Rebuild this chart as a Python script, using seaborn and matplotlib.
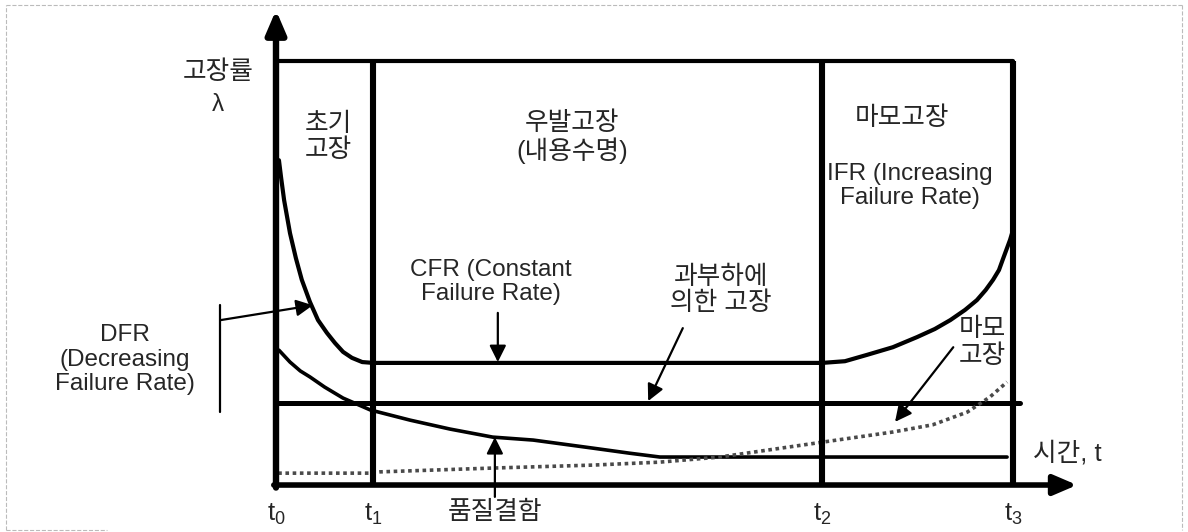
import numpy as np
import matplotlib.pyplot as plt
import seaborn as sns
from matplotlib.lines import Line2D

sns.set_theme(style='white')
plt.rcParams['font.family'] = ['Liberation Sans', 'Noto Sans CJK KR']
plt.rcParams['mathtext.fontset'] = 'custom'
plt.rcParams['mathtext.rm'] = 'Liberation Sans'
plt.rcParams['mathtext.it'] = 'Liberation Sans'

# 시간 구간 (t0 ~ t3), 가로축 0~100
t_marks = [0, 13.2, 74.1, 100]
t_labels = ['$\\mathrm{t_0}$', '$\\mathrm{t_1}$', '$\\mathrm{t_2}$', '$\\mathrm{t_3}$']

# 전체 고장률 (욕조곡선)
bath_t = [0.4, 0.7, 1.1, 1.9, 2.7, 3.5, 4.6, 5.7, 6.9, 8.0, 9.1, 10.3, 11.7, 13.2, 40.0,
          74.1, 77.2, 80.2, 83.7, 87.0, 89.4, 91.5, 93.5, 95.1, 96.3, 97.3, 98.1, 98.6,
          99.6, 100.0]
bath_rate = [76.6, 72.4, 67.2, 59.4, 53.5, 48.4, 43.2, 38.9, 35.9, 33.5, 31.4, 30.0, 29.0,
             28.8, 28.8, 28.8, 29.2, 30.7, 32.5, 34.9, 36.8, 38.9, 41.3, 43.6, 46.0, 48.4,
             50.7, 53.1, 57.8, 60.1]

# 품질결함에 의한 고장
quality_t = [0.4, 1.9, 3.3, 4.6, 6.6, 9.1, 12.8, 18.2, 23.6, 29.4, 34.9, 43.0, 48.0, 52.1,
             75.0, 99.2]
quality_rate = [31.8, 29.0, 26.9, 25.5, 23.1, 20.5, 17.7, 15.3, 13.2, 11.3, 10.6, 8.7, 7.5,
                6.6, 6.6, 6.6]

# 과부하에 의한 고장 (일정)
overload_t = [0, 101.0]
overload_rate = [19.3, 19.3]

# 마모고장
wear_t = [0.3, 12.8, 14.1, 29.4, 43.0, 52.1, 60.2, 74.1, 83.7, 89.1, 93.8, 96.9, 99.2]
wear_rate = [2.8, 2.8, 3.1, 4.0, 4.7, 5.4, 6.6, 10.1, 12.5, 14.2, 17.2, 20.8, 24.3]

top_rate = 100

fig = plt.figure(figsize=(11.88, 5.32), dpi=100)
ax = fig.add_axes([0, 0, 1, 1])
ax.set_xlim(-37.45, 123.75)
ax.set_ylim(-11.08, 114.39)
ax.axis('off')

# 곡선
sns.lineplot(x=bath_t, y=bath_rate, ax=ax, color='black', lw=3.0, estimator=None, sort=False)
sns.lineplot(x=quality_t, y=quality_rate, ax=ax, color='black', lw=2.6, estimator=None, sort=False)
sns.lineplot(x=overload_t, y=overload_rate, ax=ax, color='black', lw=3.6, estimator=None, sort=False)
sns.lineplot(x=wear_t, y=wear_rate, ax=ax, color='#4a4a4a', lw=2.6, estimator=None, sort=False,
             linestyle=(0, (1, 1)))

# 구간 경계
sns.lineplot(x=[t_marks[0], t_marks[-1]], y=[top_rate, top_rate], ax=ax, color='black', lw=3.0,
             estimator=None, sort=False)
for t in t_marks[1:]:
    ax.plot([t, t], [0, top_rate], color='black', lw=4.4, solid_capstyle='butt')

# 축 화살표
ax.annotate('', xy=(0, 112.0), xytext=(0, -0.6),
            arrowprops=dict(arrowstyle='-|>,head_length=0.7,head_width=0.3', lw=4.6,
                            color='black', shrinkA=0, shrinkB=0, mutation_scale=20))
ax.annotate('', xy=(108.7, 0), xytext=(-0.3, 0),
            arrowprops=dict(arrowstyle='-|>,head_length=0.7,head_width=0.3', lw=4.0,
                            color='black', shrinkA=0, shrinkB=0, mutation_scale=20))

# 설명 화살표
thin = dict(arrowstyle='-|>,head_length=1.0,head_width=0.5', lw=1.6, color='black',
            shrinkA=0, shrinkB=0, mutation_scale=10)
ax.annotate('', xy=(5.0, 42.4), xytext=(-7.5, 38.9), arrowprops=thin)
ax.plot([-7.6, -7.6], [17.2, 42.4], color='black', lw=1.6)
ax.annotate('', xy=(30.1, 29.0), xytext=(30.1, 40.6), arrowprops=thin)
ax.annotate('', xy=(50.5, 19.8), xytext=(55.2, 37.0), arrowprops=thin)
ax.annotate('', xy=(29.7, 11.3), xytext=(29.7, -2.8), arrowprops=thin)
ax.annotate('', xy=(84.0, 14.9), xytext=(91.9, 32.5), arrowprops=thin)

# 텍스트
fs_ko = 18.5
fs_en = 17.5
ax.text(-7.9, 97.4, '고장률', ha='center', va='center', fontsize=fs_ko)
ax.text(-7.9, 89.6, 'λ', ha='center', va='center', fontsize=fs_ko - 1)
ax.text(7.06, 82.0, '초기\n고장', ha='center', va='center', fontsize=fs_ko, linespacing=1.1)
ax.text(40.2, 82.0, '우발고장\n(내용수명)', ha='center', va='center', fontsize=fs_ko,
        linespacing=1.1)
ax.text(84.9, 86.6, '마모고장', ha='center', va='center', fontsize=fs_ko)
ax.text(86.0, 70.5, 'IFR (Increasing\nFailure Rate)', ha='center', va='center', fontsize=fs_en,
        linespacing=1.15)
ax.text(29.2, 47.9, 'CFR (Constant\nFailure Rate)', ha='center', va='center', fontsize=fs_en,
        linespacing=1.15)
ax.text(60.4, 46.0, '과부하에\n의한 고장', ha='center', va='center', fontsize=fs_ko,
        linespacing=1.1)
ax.text(95.8, 33.7, '마모\n고장', ha='center', va='center', fontsize=fs_ko, linespacing=1.15)
ax.text(-20.5, 29.5, 'DFR\n(Decreasing\nFailure Rate)', ha='center', va='center', fontsize=fs_en,
        linespacing=1.15)
ax.text(29.7, -6.4, '품질결함', ha='center', va='center', fontsize=fs_ko)
ax.text(102.7, 7.6, '시간, t', ha='left', va='center', fontsize=fs_ko)
for t, lab in zip(t_marks, t_labels):
    ax.text(t, -7.0, lab, ha='center', va='center', fontsize=fs_en + 1)

# 바깥 점선 테두리
bc = dict(color='#bbbbbb', lw=0.8, ls='--', transform=fig.transFigure)
fig.add_artist(Line2D([0.005, 0.005], [0.004, 0.991], **bc))
fig.add_artist(Line2D([0.005, 0.995], [0.991, 0.991], **bc))
fig.add_artist(Line2D([0.995, 0.995], [0.991, 0.004], **bc))
fig.add_artist(Line2D([0.005, 0.09], [0.004, 0.004], **bc))

fig.savefig('out.png', dpi=100, facecolor='white')
